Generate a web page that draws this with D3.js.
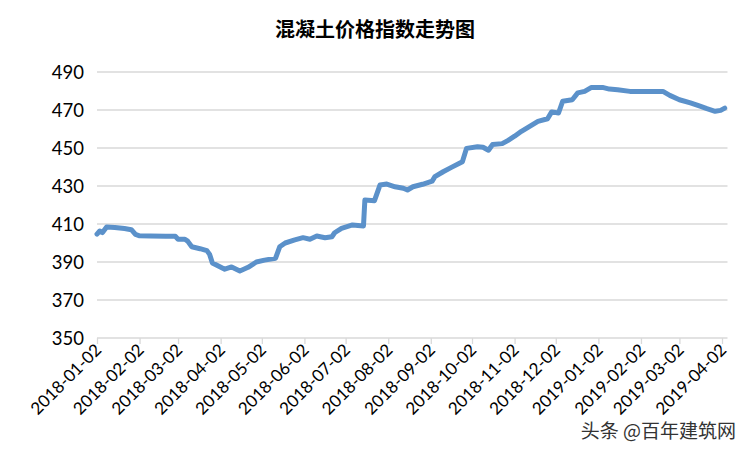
<!DOCTYPE html>
<html><head><meta charset="utf-8">
<script src="https://cdn.jsdelivr.net/npm/d3@7/dist/d3.min.js"></script>
<style>body{margin:0;background:#fff}svg{display:block}</style>
</head><body>
<svg id="c" width="751" height="451"></svg>
<script>
const title = "混凝土价格指数走势图";
const watermark = "头条 @百年建筑网";
const tickLabels = ["2018-01-02","2018-02-02","2018-03-02","2018-04-02","2018-05-02","2018-06-02","2018-07-02","2018-08-02","2018-09-02","2018-10-02","2018-11-02","2018-12-02","2019-01-02","2019-02-02","2019-03-02","2019-04-02"];
const yTicks = [350,370,390,410,430,450,470,490];
const dates = ["2018-01-02","2018-01-04","2018-01-06","2018-01-09","2018-01-15","2018-01-22","2018-01-27","2018-01-30","2018-02-02","2018-02-10","2018-02-21","2018-02-28","2018-03-02","2018-03-07","2018-03-09","2018-03-12","2018-03-18","2018-03-23","2018-03-25","2018-03-27","2018-03-31","2018-04-05","2018-04-10","2018-04-16","2018-04-22","2018-04-28","2018-05-04","2018-05-12","2018-05-15","2018-05-19","2018-05-26","2018-06-01","2018-06-06","2018-06-11","2018-06-17","2018-06-22","2018-06-24","2018-06-29","2018-07-07","2018-07-15","2018-07-16","2018-07-23","2018-07-27","2018-08-01","2018-08-07","2018-08-13","2018-08-16","2018-08-20","2018-08-27","2018-09-03","2018-09-05","2018-09-11","2018-09-17","2018-09-25","2018-09-28","2018-10-06","2018-10-10","2018-10-14","2018-10-17","2018-10-24","2018-10-28","2018-11-02","2018-11-07","2018-11-13","2018-11-19","2018-11-26","2018-11-29","2018-12-04","2018-12-07","2018-12-14","2018-12-18","2018-12-23","2018-12-28","2019-01-05","2019-01-10","2019-01-16","2019-01-25","2019-02-18","2019-02-23","2019-03-02","2019-03-10","2019-03-17","2019-03-22","2019-03-28","2019-04-01","2019-04-04"];
const values = [404.7,406.3,405.5,408.4,408.2,407.6,407.0,404.5,403.8,403.7,403.6,403.5,402.0,402.0,401.0,398.0,397.0,396.0,394.0,389.5,388.0,386.2,387.4,385.3,387.2,390.0,391.0,392.0,398.0,400.0,401.6,402.8,402.0,403.7,402.8,403.3,405.4,407.7,409.5,409.0,422.6,422.3,430.5,431.0,429.6,428.8,427.9,429.6,430.9,432.6,434.9,437.5,439.8,442.8,449.8,450.7,450.4,448.8,451.8,452.3,453.9,456.2,458.8,461.4,464.0,465.4,469.0,468.4,474.6,475.4,479.0,479.8,481.9,481.9,481.0,480.7,479.8,479.8,477.7,475.4,473.7,472.0,470.7,469.3,469.8,471.0];

const parse = d3.utcParse("%Y-%m-%d");
const data = dates.map((d,i)=>({date:parse(d), value:values[i]}));
const svg = d3.select("#c");
const x0 = parse("2018-01-02"), x1 = parse("2019-04-02");
const x = d3.scaleUtc().domain([x0, x1]).range([97, 722]);
const xEnd = x(parse("2019-04-06"));
const y = d3.scaleLinear().domain([350, 490]).range([338, 72]);

// gridlines
svg.append("g").selectAll("line").data(yTicks.filter(v=>v>350)).join("line")
  .attr("x1", 97).attr("x2", xEnd).attr("y1", d=>y(d)).attr("y2", d=>y(d))
  .attr("stroke", "#d9d9d9").attr("stroke-width", 1.3);

// y axis labels
svg.append("g").selectAll("text").data(yTicks).join("text")
  .attr("x", 84).attr("y", d=>y(d)).attr("dy", "0.36em").attr("text-anchor", "end")
  .attr("font-family", "Lato, 'Liberation Sans', sans-serif").attr("font-size", 18.5).attr("fill", "#000")
  .text(d=>d);

// x axis
const xAxis = d3.axisBottom(x).tickValues(tickLabels.map(parse)).tickSize(6).tickFormat(d3.utcFormat("%Y-%m-%d"));
const gx = svg.append("g").attr("transform", `translate(0,${y(350)})`).call(xAxis);
gx.select(".domain").attr("d", `M97,0H${xEnd}`).attr("stroke", "#d9d9d9").attr("stroke-width", 1.3);
gx.selectAll(".tick line").attr("stroke", "#d9d9d9").attr("stroke-width", 1.3);
gx.selectAll(".tick text")
  .attr("font-family", "Lato, 'Liberation Sans', sans-serif").attr("font-size", 17).attr("fill", "#000")
  .attr("text-anchor", "end").attr("dy", null).attr("y", 0)
  .attr("transform", "translate(5,13) rotate(-45)");

// line
svg.append("path").datum(data)
  .attr("fill", "none").attr("stroke", "#5b91ca").attr("stroke-width", 5)
  .attr("stroke-linejoin", "round").attr("stroke-linecap", "round")
  .attr("d", d3.line().x(d=>x(d.date)).y(d=>y(d.value)));

// title
svg.append("text").attr("x", 375).attr("y", 37).attr("text-anchor", "middle")
  .attr("font-family", "'Noto Sans CJK SC', sans-serif").attr("font-weight", "bold").attr("font-size", 20)
  .attr("fill", "#000").text(title);

// watermark
svg.append("text").attr("x", 736).attr("y", 438).attr("text-anchor", "end")
  .attr("font-family", "'Noto Sans CJK SC', sans-serif").attr("font-size", 19)
  .attr("fill", "#333").attr("stroke", "#fff").attr("stroke-width", 2.5).attr("paint-order", "stroke")
  .text(watermark);
</script>
</body></html>
